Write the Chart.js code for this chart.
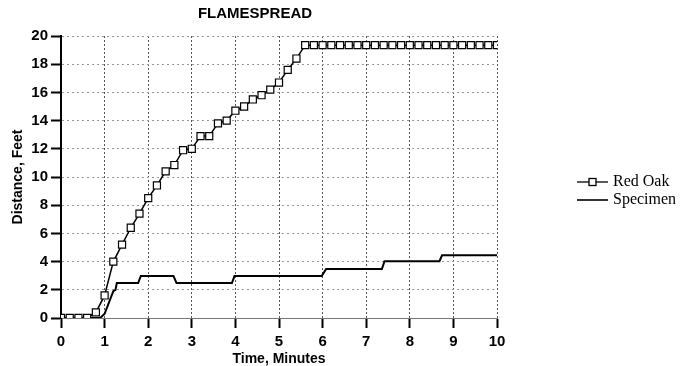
<!DOCTYPE html>
<html>
<head>
<meta charset="utf-8">
<script src="https://cdn.jsdelivr.net/npm/chart.js@4"></script>
<style>
  html, body { margin: 0; padding: 0; background: #fff; }
  #wrap { width: 681px; height: 366px; }
</style>
</head>
<body>
<div id="wrap"><canvas id="flameChart" width="681" height="366"></canvas></div>
<script>
// Red Oak readings (time in minutes, distance in feet)
const redOakTime = [0, 0.2, 0.4, 0.6, 0.8, 1.0, 1.2, 1.4, 1.6, 1.8, 2.0, 2.2, 2.4, 2.6, 2.8, 3.0, 3.2, 3.4, 3.6, 3.8,
    4.0, 4.2, 4.4, 4.6, 4.8, 5.0, 5.2, 5.4, 5.6, 5.8, 6.0, 6.2, 6.4, 6.6, 6.8, 7.0, 7.2, 7.4, 7.6, 7.8,
    8.0, 8.2, 8.4, 8.6, 8.8, 9.0, 9.2, 9.4, 9.6, 9.8, 10.0];
const redOakDist = [0, 0, 0, 0, 0.4, 1.6, 4.0, 5.2, 6.4, 7.4, 8.5, 9.4, 10.4, 10.85, 11.9, 12.0, 12.9, 12.9, 13.8, 14.0,
    14.7, 15.0, 15.5, 15.8, 16.2, 16.7, 17.6, 18.4, 19.35, 19.35, 19.35, 19.35, 19.35, 19.35, 19.35, 19.35, 19.35, 19.35, 19.35, 19.35,
    19.35, 19.35, 19.35, 19.35, 19.35, 19.35, 19.35, 19.35, 19.35, 19.35, 19.35];

// Specimen trace
const specimenTime = [0, 0.9, 1.0, 1.2, 1.25, 1.28, 1.77, 1.83, 2.58, 2.65, 3.92, 3.98, 5.98, 6.08, 7.36, 7.42, 8.68, 8.74, 10.0];
const specimenDist = [0, 0, 0.3, 1.9, 2.0, 2.48, 2.48, 2.98, 2.98, 2.48, 2.48, 2.98, 2.98, 3.47, 3.47, 4.03, 4.03, 4.45, 4.45];

const xTicks = [0, 1, 2, 3, 4, 5, 6, 7, 8, 9, 10];
const yTicks = [0, 2, 4, 6, 8, 10, 12, 14, 16, 18, 20];

const toPoints = (xs, ys) => xs.map((x, i) => ({ x: x, y: ys[i] }));

// Title and legend drawn by hand so they sit where the original puts them
const decorations = {
    id: 'decorations',
    afterDraw(chart) {
        const ctx = chart.ctx;
        ctx.save();
        ctx.fillStyle = '#000';
        ctx.font = 'bold 15px "Liberation Sans", Arial, sans-serif';
        ctx.textAlign = 'center';
        ctx.textBaseline = 'middle';
        ctx.fillText('FLAMESPREAD', 255, 14);

        // legend
        ctx.strokeStyle = '#000';
        ctx.lineWidth = 1.3;
        ctx.beginPath();
        ctx.moveTo(577, 182);
        ctx.lineTo(608, 182);
        ctx.stroke();
        ctx.fillStyle = '#fff';
        ctx.fillRect(589, 178.5, 7, 7);
        ctx.strokeRect(589, 178.5, 7, 7);

        ctx.lineWidth = 1.6;
        ctx.beginPath();
        ctx.moveTo(577, 200);
        ctx.lineTo(608, 200);
        ctx.stroke();

        ctx.fillStyle = '#000';
        ctx.font = '16px "Liberation Serif", "Times New Roman", serif';
        ctx.textAlign = 'left';
        ctx.fillText('Red Oak', 613, 182);
        ctx.fillText('Specimen', 613, 200);
        ctx.restore();
    }
};

new Chart(document.getElementById('flameChart'), {
    type: 'line',
    data: {
        datasets: [{
            label: 'Red Oak',
            data: toPoints(redOakTime, redOakDist),
            borderColor: '#000',
            borderWidth: 1.5,
            pointStyle: 'rect',
            pointRadius: 5,
            pointBorderWidth: 1.2,
            pointBorderColor: '#000',
            pointBackgroundColor: '#fff',
            tension: 0
        }, {
            label: 'Specimen',
            data: toPoints(specimenTime, specimenDist),
            borderColor: '#000',
            borderWidth: 2,
            pointRadius: 0,
            tension: 0
        }]
    },
    options: {
        responsive: false,
        animation: false,
        layout: {
            padding: { left: 0, top: 36, right: 184, bottom: 0 }
        },
        plugins: {
            legend: { display: false },
            title: { display: false },
            tooltip: { enabled: false }
        },
        scales: {
            x: {
                type: 'linear',
                min: 0,
                max: 10,
                afterBuildTicks: scale => { scale.ticks = xTicks.map(v => ({ value: v })); },
                afterFit: scale => { scale.height = 48; },
                ticks: {
                    autoSkip: false,
                    maxRotation: 0,
                    padding: 5,
                    color: '#000',
                    font: { family: '"Liberation Sans", Arial, sans-serif', size: 15, weight: 'bold' }
                },
                grid: {
                    color: '#555',
                    lineWidth: 1,
                    tickLength: 10,
                    tickColor: '#000',
                    tickWidth: 2,
                    tickBorderDash: []
                },
                border: { display: true, color: '#777', width: 1, dash: [2, 2] },
                title: {
                    display: true,
                    text: 'Time, Minutes',
                    color: '#000',
                    padding: { top: 0, bottom: -2 },
                    font: { family: '"Liberation Sans", Arial, sans-serif', size: 14, weight: 'bold' }
                }
            },
            y: {
                min: 0,
                max: 20,
                afterBuildTicks: scale => { scale.ticks = yTicks.map(v => ({ value: v })); },
                afterFit: scale => { scale.width = 61; },
                ticks: {
                    padding: 3,
                    color: '#000',
                    font: { family: '"Liberation Sans", Arial, sans-serif', size: 15, weight: 'bold' }
                },
                grid: {
                    color: '#999',
                    lineWidth: 1,
                    tickLength: 10,
                    tickColor: '#000',
                    tickWidth: 2,
                    tickBorderDash: []
                },
                border: { display: true, color: '#000', width: 2, dash: [2, 3] },
                title: {
                    display: true,
                    text: 'Distance, Feet',
                    color: '#000',
                    padding: { top: 10, bottom: 0 },
                    font: { family: '"Liberation Sans", Arial, sans-serif', size: 14, weight: 'bold' }
                }
            }
        }
    },
    plugins: [decorations]
});
</script>
</body>
</html>
